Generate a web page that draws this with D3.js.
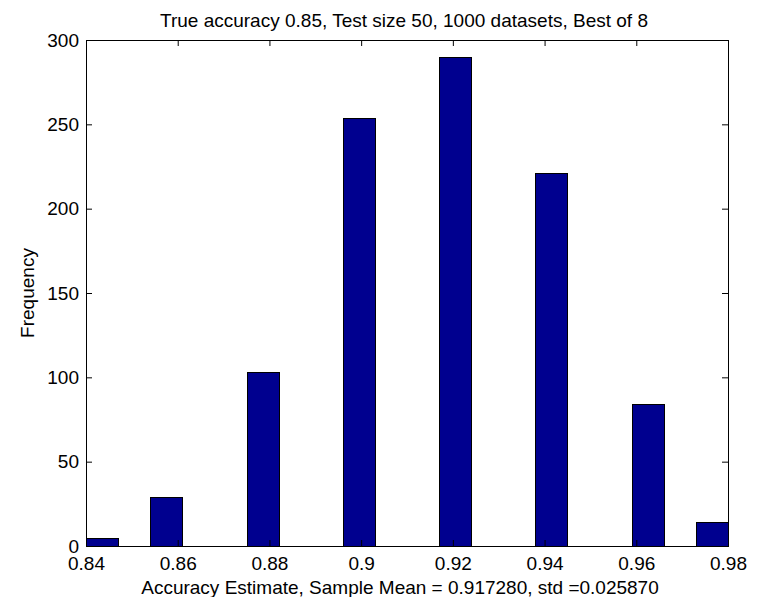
<!DOCTYPE html>
<html>
<head>
<meta charset="utf-8">
<script src="https://cdnjs.cloudflare.com/ajax/libs/d3/7.8.5/d3.min.js"></script>
<style>
body{margin:0;background:#fff}
text{font-family:"Liberation Sans",Arial,sans-serif;fill:#000}
</style>
</head>
<body>
<svg id="chart"></svg>
<script>
// histogram bins (20 bins over [0.84, 0.98], only the filled ones)
const binCenters = [0.8435, 0.8575, 0.8785, 0.8995, 0.9205, 0.9415, 0.9625, 0.9765];
const counts = [5, 29, 103, 254, 290, 221, 84, 14];
const binWidth = 0.007;
const xTicks = [0.84, 0.86, 0.88, 0.9, 0.92, 0.94, 0.96, 0.98];
const xTickLabels = ["0.84", "0.86", "0.88", "0.9", "0.92", "0.94", "0.96", "0.98"];
const yTicks = [0, 50, 100, 150, 200, 250, 300];
const titleText = "True accuracy 0.85, Test size 50, 1000 datasets, Best of 8";
const xLabelText = "Accuracy Estimate, Sample Mean = 0.917280, std =0.025870";
const yLabelText = "Frequency";

const margin = {top: 40, right: 33, bottom: 51, left: 86};
var width = 761 - margin.left - margin.right;
var height = 597 - margin.top - margin.bottom;
var tick = 6;
var fontSize = 19;

var svg = d3.select("#chart").attr("width", 761).attr("height", 597);
var g = svg.append("g").attr("transform", "translate(" + margin.left + "," + margin.top + ")");

var xScale = d3.scaleLinear().domain([0.84, 0.98]).range([0, width]);
var yScale = d3.scaleLinear().domain([0, 300]).range([height, 0]);

var bins = binCenters.map((c, i) => ({center: c, count: counts[i]}));

// bars
g.selectAll("rect.bar")
  .data(bins)
  .join("rect")
  .attr("class", "bar")
  .attr("x", d => Math.round(xScale(d.center - binWidth / 2)) + 0.5)
  .attr("y", d => Math.round(yScale(d.count)) + 0.5)
  .attr("width", d => Math.round(xScale(d.center + binWidth / 2)) - Math.round(xScale(d.center - binWidth / 2)))
  .attr("height", d => Math.round(yScale(0)) - Math.round(yScale(d.count)))
  .attr("fill", "#00008f")
  .attr("stroke", "#000")
  .attr("stroke-width", 1);

// axes, ticks pointing inward on all four sides
g.append("g").attr("transform", "translate(0," + height + ")")
  .call(d3.axisBottom(xScale).tickValues(xTicks).tickSizeInner(-tick).tickSizeOuter(0).tickPadding(11)
    .tickFormat((d, i) => xTickLabels[i]));
g.append("g")
  .call(d3.axisLeft(yScale).tickValues(yTicks).tickSizeInner(-tick).tickSizeOuter(0).tickPadding(7)
    .tickFormat(d3.format("d")));
g.append("g")
  .call(d3.axisTop(xScale).tickValues(xTicks).tickSizeInner(-tick).tickSizeOuter(0).tickFormat(""));
g.append("g").attr("transform", "translate(" + width + ",0)")
  .call(d3.axisRight(yScale).tickValues(yTicks).tickSizeInner(-tick).tickSizeOuter(0).tickFormat(""));

g.selectAll(".domain, .tick line").attr("stroke", "#000");
g.selectAll(".tick text").style("font-size", fontSize + "px").attr("fill", "#000");

// titles
g.append("text")
  .attr("x", width / 2 - 3)
  .attr("y", -13.5)
  .attr("text-anchor", "middle")
  .style("font-size", fontSize + "px")
  .text(titleText);

g.append("text")
  .attr("x", width / 2 - 7)
  .attr("y", height + 47.5)
  .attr("text-anchor", "middle")
  .style("font-size", fontSize + "px")
  .text(xLabelText);

g.append("text")
  .attr("transform", "translate(" + (-52.5) + "," + (height / 2) + ") rotate(-90)")
  .attr("text-anchor", "middle")
  .style("font-size", fontSize + "px")
  .text(yLabelText);
</script>
</body>
</html>
